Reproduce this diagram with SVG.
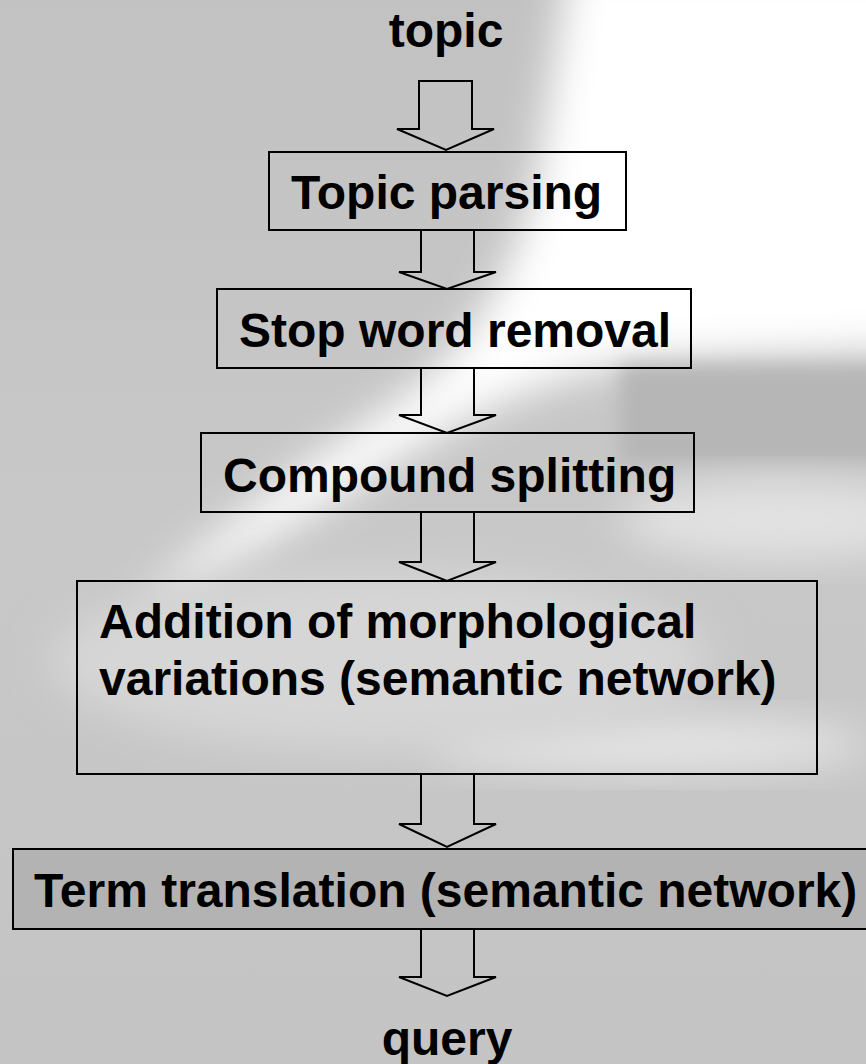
<svg xmlns="http://www.w3.org/2000/svg" width="866" height="1064" viewBox="0 0 866 1064">
<defs>
<filter id="blur20" x="-30%" y="-30%" width="160%" height="160%"><feGaussianBlur stdDeviation="20"/></filter>
<filter id="blur10" x="-30%" y="-30%" width="160%" height="160%"><feGaussianBlur stdDeviation="10"/></filter>
<linearGradient id="bg" x1="0" y1="0" x2="0" y2="1">
<stop offset="0" stop-color="#c2c2c2"/>
<stop offset="0.5" stop-color="#c8c8c8"/>
<stop offset="1" stop-color="#c4c4c4"/>
</linearGradient>
<style>
.box{fill:none;stroke:#000;stroke-width:2}
.boxd{fill:#b3b3b3;stroke:#000;stroke-width:2}
.arr{fill:none;stroke:#000;stroke-width:2;stroke-linejoin:miter}
.t{font-family:"Liberation Sans",Arial,sans-serif;font-weight:bold;font-size:48px;fill:#000}
</style>
</defs>
<g id="background">
<rect x="0" y="0" width="866" height="1064" fill="url(#bg)"/>
<path d="M570,-40 L920,-40 L920,350 L660,360 C560,370 470,410 380,470 C300,520 220,570 140,610 C200,540 300,470 400,400 C480,340 520,260 540,160 C550,90 560,30 570,-40 Z" fill="#ffffff" filter="url(#blur20)"/>
<rect x="620" y="365" width="300" height="100" fill="#b6b6b6" filter="url(#blur10)"/>
<ellipse cx="780" cy="520" rx="160" ry="40" fill="#e2e2e2" filter="url(#blur20)"/>
<ellipse cx="650" cy="745" rx="220" ry="28" fill="#e4e4e4" filter="url(#blur20)"/>
<ellipse cx="380" cy="660" rx="330" ry="90" fill="#d6d6d6" filter="url(#blur20)"/>
</g>
<g id="connectors">
<polygon class="arr" points="419,81 472,81 472,129 494,129 446,150 397,129 419,129"/>
<polygon class="arr" points="421,230 474,230 474,272 496,272 447,289 399,272 421,272"/>
<polygon class="arr" points="421,368 474,368 474,415 496,415 447,433 399,415 421,415"/>
<polygon class="arr" points="421,512 474,512 474,562 496,562 447,581 399,562 421,562"/>
<polygon class="arr" points="421,774 474,774 474,824 496,824 447,847 399,824 421,824"/>
<polygon class="arr" points="421,929 474,929 474,977 496,977 447,996 399,977 421,977"/>
</g>
<g id="topic"><text class="t" x="446" y="47" text-anchor="middle">topic</text></g>
<g id="topic-parsing">
<rect class="box" x="269" y="152" width="357" height="78"/>
<text class="t" x="291" y="209">Topic parsing</text>
</g>
<g id="stop-word-removal">
<rect class="box" x="217" y="289" width="474" height="79"/>
<text class="t" x="239" y="347">Stop word removal</text>
</g>
<g id="compound-splitting">
<rect class="box" x="201" y="433" width="493" height="79"/>
<text class="t" x="223" y="492">Compound splitting</text>
</g>
<g id="morphological-variations">
<rect class="box" x="77" y="581" width="740" height="193"/>
<text class="t" x="99" y="638">Addition of morphological</text>
<text class="t" x="99" y="695">variations (semantic network)</text>
</g>
<g id="term-translation">
<rect class="boxd" x="13" y="849" width="880" height="80"/>
<text class="t" x="34" y="907">Term translation (semantic network)</text>
</g>
<g id="query"><text class="t" x="447" y="1055" text-anchor="middle">query</text></g>
</svg>
